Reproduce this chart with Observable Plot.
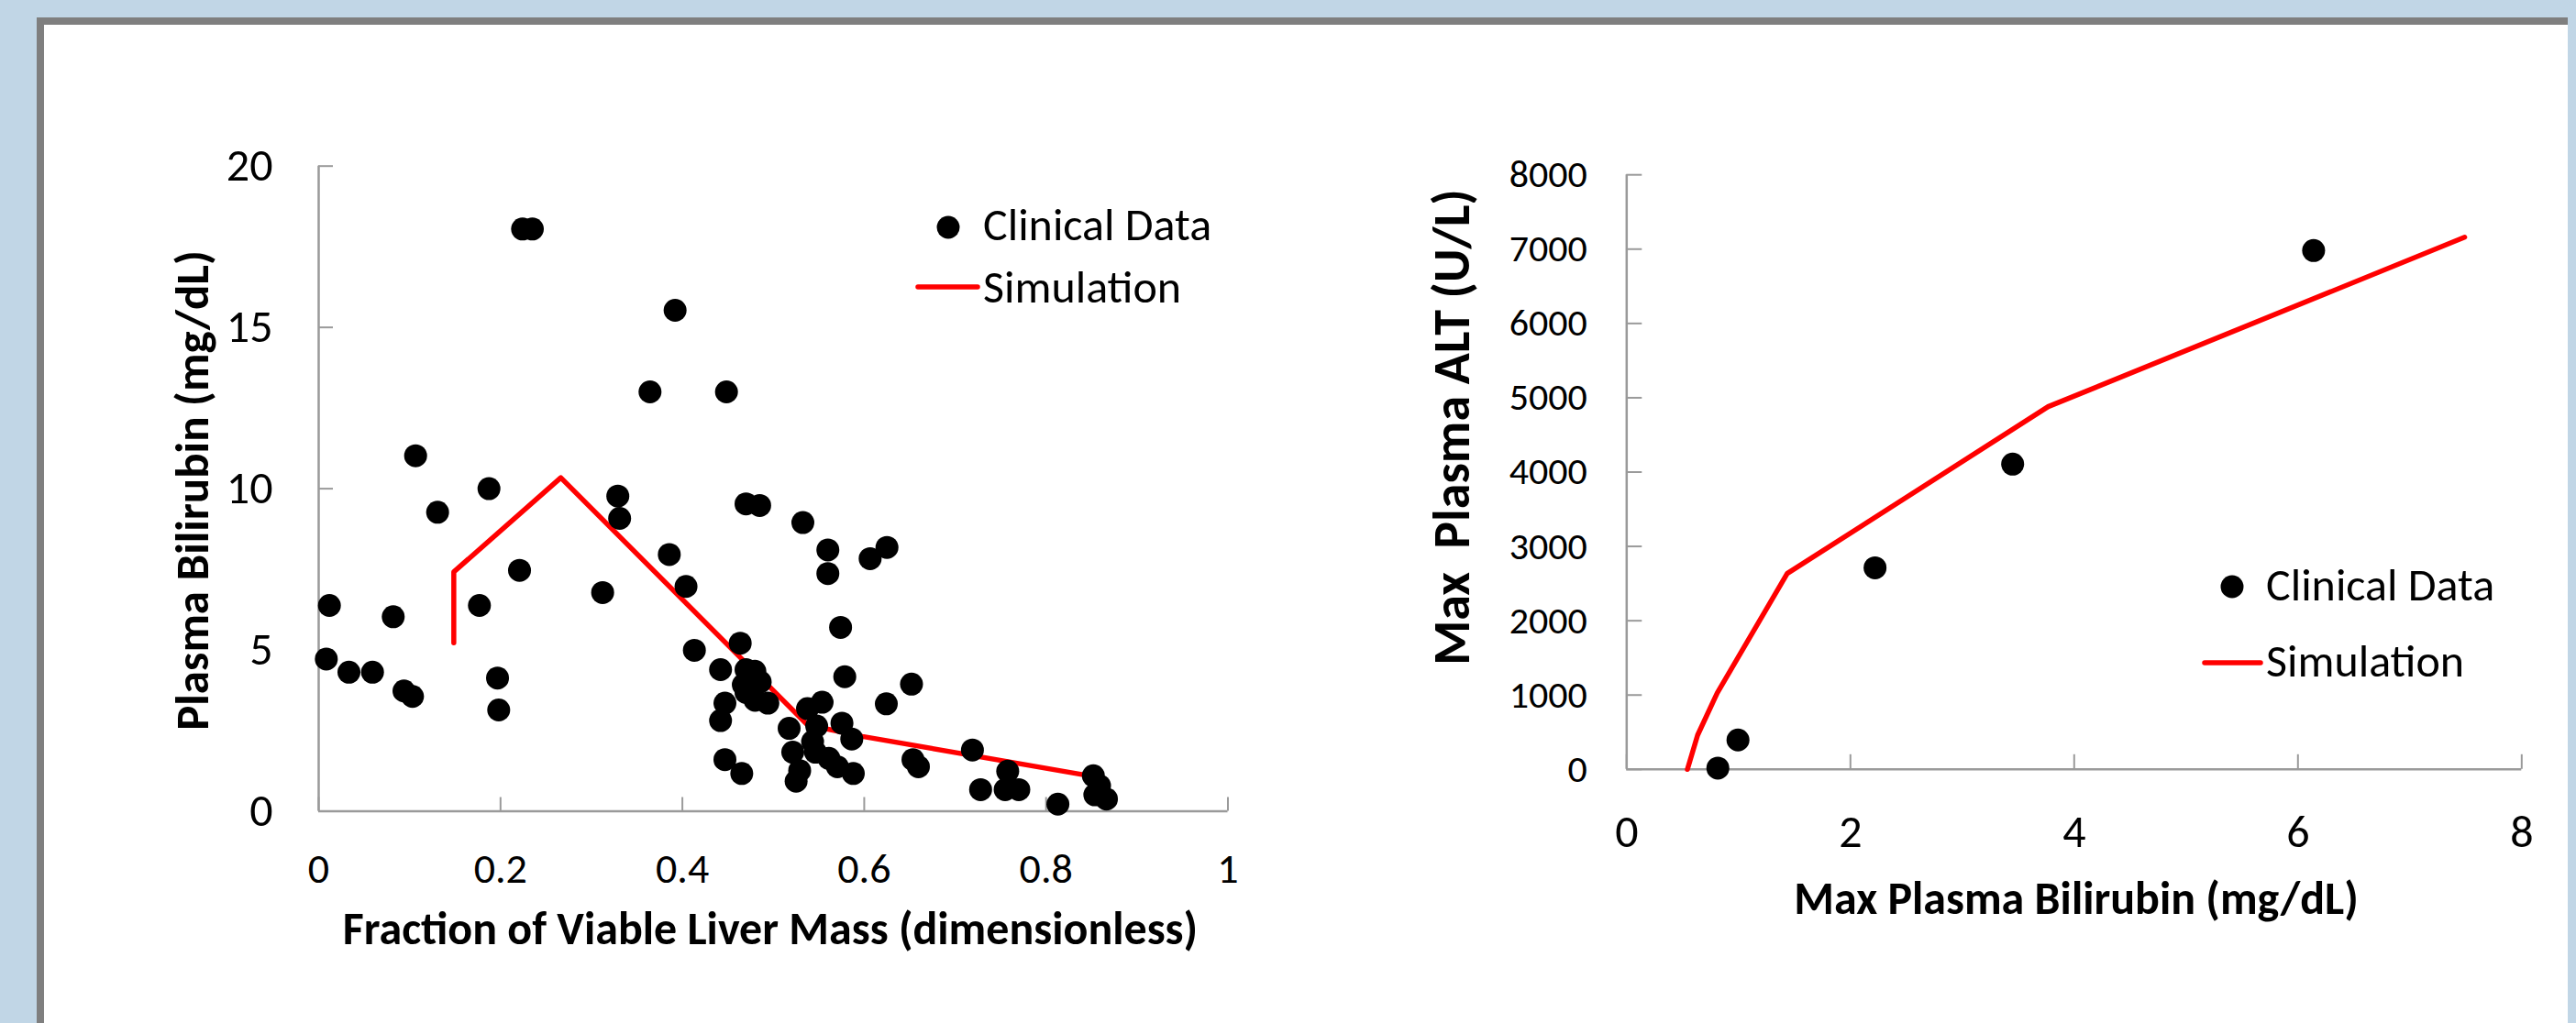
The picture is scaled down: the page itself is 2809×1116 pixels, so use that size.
<!DOCTYPE html>
<html>
<head>
<meta charset="utf-8">
<script src="https://cdn.jsdelivr.net/npm/d3@7"></script>
<script src="https://cdn.jsdelivr.net/npm/@observablehq/plot@0.6"></script>
<style>
html, body { margin:0; padding:0; }
body { width:2809px; height:1116px; position:relative; overflow:hidden; background:#c1d6e6; font-family: Carlito, Lato, sans-serif; }
#panel { position:absolute; left:40px; top:19px; width:2760px; height:1120px; background:#fff; border-left:8px solid #7f7f7f; border-top:8px solid #7f7f7f; box-sizing:border-box; }
.chart { position:absolute; top:0; }
#overlay { position:absolute; left:0; top:0; }
#overlay text { font-family: Carlito, Lato, sans-serif; white-space: pre; }
</style>
</head>
<body>
<div id="panel"></div>
<div id="left" class="chart" style="left:0px"></div>
<div id="right" class="chart" style="left:1400px"></div>
<svg id="overlay" width="2809" height="1116"></svg>
<script>
// ---------- Data: left panel (bilirubin vs. viable liver fraction) ----------
const clinicalFraction = [
  0.2242, 0.2350, 0.392, 0.3644, 0.4485,
  0.1066, 0.1873, 0.1308, 0.329, 0.331, 0.470, 0.485,
  0.5325, 0.560, 0.560, 0.6065, 0.625,
  0.3856, 0.404, 0.2209, 0.3123,
  0.0118, 0.082, 0.1768,
  0.574, 0.4636, 0.4132,
  0.0084, 0.0333, 0.0592, 0.0938, 0.1032, 0.1967, 0.198,
  0.442, 0.470, 0.4797, 0.4856, 0.467, 0.470, 0.480, 0.494,
  0.4468, 0.442, 0.4468, 0.4653,
  0.5786, 0.652, 0.6243, 0.5537, 0.5376,
  0.5174, 0.5477, 0.5755, 0.5863, 0.5432, 0.5464, 0.5214, 0.529, 0.5251, 0.5611, 0.5705, 0.588,
  0.6536, 0.6596, 0.719, 0.728, 0.7578, 0.755, 0.770, 0.813, 0.852, 0.8588, 0.8536, 0.8664
];
const clinicalBilirubin = [
  18.05, 18.05, 15.53, 13.0, 13.0,
  11.02, 10.0, 9.27, 9.77, 9.08, 9.53, 9.48,
  8.95, 8.10, 7.37, 7.83, 8.18,
  7.96, 6.97, 7.47, 6.78,
  6.38, 6.03, 6.38,
  5.70, 5.21, 4.99,
  4.72, 4.31, 4.31, 3.73, 3.56, 4.13, 3.14,
  4.39, 4.39, 4.34, 4.01, 3.92, 3.68, 3.44, 3.35,
  3.35, 2.81, 1.60, 1.17,
  4.17, 3.94, 3.33, 3.38, 3.18,
  2.57, 2.64, 2.73, 2.24, 2.16, 1.83, 1.83, 1.26, 0.93, 1.64, 1.38, 1.17,
  1.60, 1.38, 1.90, 0.67, 1.24, 0.67, 0.67, 0.22, 1.10, 0.79, 0.51, 0.38
];
const simFraction  = [0.1486, 0.1486, 0.2663, 0.5376, 0.598, 0.8437];
const simBilirubin = [5.22, 7.42, 10.34, 2.68, 2.32, 1.12];
const leftXTicks = [0, 0.2, 0.4, 0.6, 0.8, 1];
const leftYTicks = [0, 5, 10, 15, 20];

// ---------- Data: right panel (ALT vs. bilirubin) ----------
const altBilirubin = [0.815, 0.995, 2.22, 3.45, 6.14];
const altValues    = [17, 395, 2712, 4107, 6981];
const simAltBilirubin = [0.543, 0.634, 0.81, 1.435, 3.767, 7.49];
const simAltValues    = [0, 460, 1030, 2635, 4880, 7160];
const rightXTicks = [0, 2, 4, 6, 8];
const rightYTicks = [0, 1000, 2000, 3000, 4000, 5000, 6000, 7000, 8000];

const legendLabels = ["Clinical Data", "Simulation"];

// ---------- Styles ----------
const AXIS = "#9a9a9a";
const RED = "#ff0000";
const FONT = "Carlito, Lato, sans-serif";

const clinicalL = clinicalFraction.map((x, i) => ({x, y: clinicalBilirubin[i]}));
const simL = simFraction.map((x, i) => ({x, y: simBilirubin[i]}));
const clinicalR = altBilirubin.map((x, i) => ({x, y: altValues[i]}));
const simR = simAltBilirubin.map((x, i) => ({x, y: simAltValues[i]}));

const leftPlot = Plot.plot({
  width: 1400, height: 1116,
  marginLeft: 347, marginRight: 61.5, marginTop: 180.7, marginBottom: 231.5,
  x: {domain: [0, 1], label: null},
  y: {domain: [0, 20], label: null},
  style: {background: "transparent", fontFamily: FONT, color: "#000", overflow: "visible"},
  marks: [
    Plot.ruleX([0], {stroke: AXIS, strokeWidth: 2.5}),
    Plot.ruleY([0], {stroke: AXIS, strokeWidth: 2.5}),
    Plot.axisX({ticks: leftXTicks, tickSize: -15, tickPadding: 60.5, stroke: AXIS, strokeWidth: 2, fill: "#000", fontSize: 46, label: null, tickFormat: d => String(d)}),
    Plot.axisY({ticks: leftYTicks, tickSize: -16, tickPadding: 66, stroke: AXIS, strokeWidth: 2, fill: "#000", fontSize: 50, label: null, tickFormat: d => String(d)}),
    Plot.line(simL, {x: "x", y: "y", stroke: RED, strokeWidth: 5.5}),
    Plot.dot(clinicalL, {x: "x", y: "y", r: 12.5, fill: "#000", stroke: null})
  ]
});
document.getElementById("left").appendChild(leftPlot);

const rightPlot = Plot.plot({
  width: 1409, height: 1116,
  marginLeft: 373.3, marginRight: 59.7, marginTop: 190.2, marginBottom: 277.2,
  x: {domain: [0, 8], label: null},
  y: {domain: [0, 8000], label: null},
  style: {background: "transparent", fontFamily: FONT, color: "#000", overflow: "visible"},
  marks: [
    Plot.ruleX([0], {stroke: AXIS, strokeWidth: 2.5}),
    Plot.ruleY([0], {stroke: AXIS, strokeWidth: 2.5}),
    Plot.axisX({ticks: rightXTicks, tickSize: -16, tickPadding: 65, stroke: AXIS, strokeWidth: 2, fill: "#000", fontSize: 50, label: null, tickFormat: d => String(d)}),
    Plot.axisY({ticks: rightYTicks, tickSize: -17, tickPadding: 60, stroke: AXIS, strokeWidth: 2, fill: "#000", fontSize: 42, label: null, tickFormat: d => String(d)}),
    Plot.line(simR, {x: "x", y: "y", stroke: RED, strokeWidth: 5.5}),
    Plot.dot(clinicalR, {x: "x", y: "y", r: 12.5, fill: "#000", stroke: null})
  ]
});
document.getElementById("right").appendChild(rightPlot);

// ---------- Legends and axis titles ----------
const ov = d3.select("#overlay");
function legend(dotX, dotY, textX, base1, lineX1, lineX2, lineY, base2) {
  ov.append("circle").attr("cx", dotX).attr("cy", dotY).attr("r", 12.5).attr("fill", "#000");
  ov.append("text").attr("x", textX).attr("y", base1).attr("font-size", 50).text(legendLabels[0]);
  ov.append("line").attr("x1", lineX1).attr("x2", lineX2).attr("y1", lineY).attr("y2", lineY)
    .attr("stroke", RED).attr("stroke-width", 5.5).attr("stroke-linecap", "round");
  ov.append("text").attr("x", textX).attr("y", base2).attr("font-size", 50).text(legendLabels[1]);
}
legend(1034, 248, 1072, 262, 1001, 1066, 313, 330);
legend(2434, 640, 2471, 654.5, 2404, 2465, 723, 738);

function title(txt, x, y, rot, size) {
  const t = ov.append("text").attr("font-size", size).attr("font-weight", 700)
    .attr("text-anchor", "middle").text(txt);
  if (rot) t.attr("transform", `translate(${x},${y}) rotate(-90)`);
  else t.attr("x", x).attr("y", y);
}
title("Fraction of Viable Liver Mass (dimensionless)", 840, 1030, false, 50);
title("Plasma Bilirubin (mg/dL)", 227, 535, true, 51);
title("Max Plasma Bilirubin (mg/dL)", 2264, 997, false, 50);
title("Max  Plasma ALT (U/L)", 1602, 466, true, 56);
</script>
</body>
</html>
